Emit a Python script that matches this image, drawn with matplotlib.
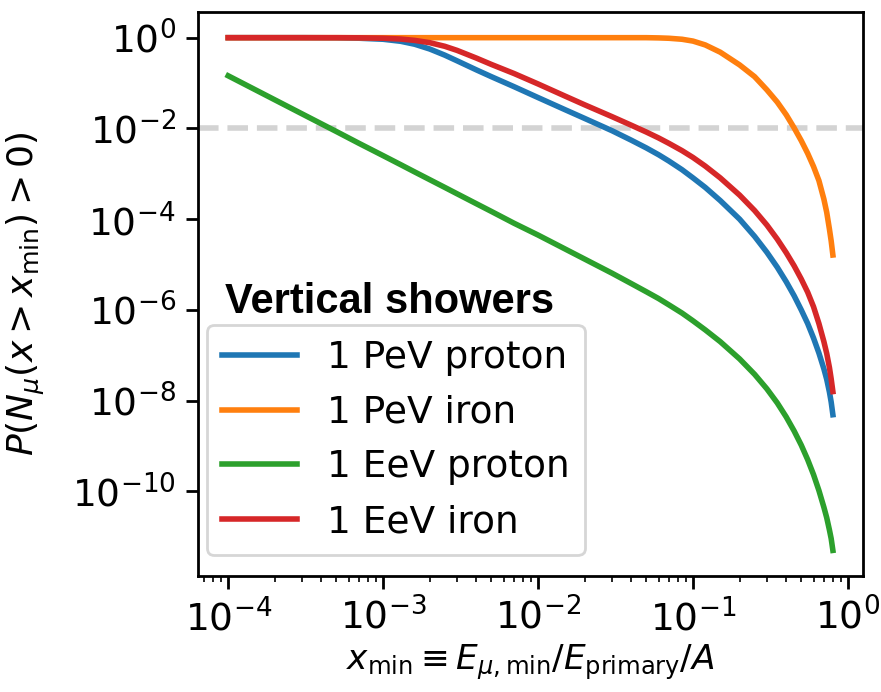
"""Probability of at least one muon above x_min for vertical air showers."""

import matplotlib.pyplot as plt
from matplotlib.ticker import NullLocator

# x_min grid shared by all curves
x_min = [1e-4, 2e-4, 3e-4, 5e-4, 7e-4,
         1e-3, 1.3e-3, 1.6e-3, 2e-3, 2.5e-3,
         3e-3, 4e-3, 5e-3, 7e-3, 1e-2,
         1.5e-2, 2e-2, 3e-2, 4e-2, 5e-2,
         6e-2, 7e-2, 8.5e-2, 0.1, 0.12,
         0.15, 0.2, 0.25, 0.3, 0.35,
         0.4, 0.45, 0.5, 0.55, 0.6,
         0.65, 0.7, 0.73, 0.76, 0.78, 0.8]

# log10 P(N_mu(x > x_min) > 0)
log_p_pev_proton = [0.0, 0.0, 0.0, -0.003, -0.012,
                    -0.035, -0.08, -0.145, -0.25, -0.385,
                    -0.51, -0.71, -0.86, -1.08, -1.32,
                    -1.59, -1.78, -2.05, -2.26, -2.43,
                    -2.58, -2.72, -2.91, -3.09, -3.30,
                    -3.59, -4.00, -4.38, -4.73, -5.06,
                    -5.38, -5.69, -6.00, -6.30, -6.62,
                    -6.95, -7.30, -7.53, -7.81, -8.03, -8.31]
log_p_pev_iron = [0.0, 0.0, 0.0, 0.0, 0.0,
                  0.0, 0.0, 0.0, 0.0, 0.0,
                  0.0, 0.0, 0.0, 0.0, 0.0,
                  0.0, 0.0, 0.0, 0.0, 0.0,
                  -0.005, -0.013, -0.035, -0.075, -0.16,
                  -0.32, -0.60, -0.86, -1.15, -1.42,
                  -1.70, -1.99, -2.27, -2.55, -2.84,
                  -3.15, -3.56, -3.85, -4.22, -4.48, -4.79]
log_p_eev_proton = [-0.84, -1.37, -1.68, -2.07, -2.33,
                    -2.60, -2.80, -2.96, -3.13, -3.30,
                    -3.44, -3.66, -3.83, -4.09, -4.35,
                    -4.66, -4.88, -5.19, -5.42, -5.60,
                    -5.75, -5.89, -6.07, -6.24, -6.44,
                    -6.70, -7.08, -7.42, -7.74, -8.05,
                    -8.36, -8.67, -8.98, -9.30, -9.63,
                    -9.98, -10.35, -10.58, -10.85, -11.04, -11.30]
log_p_eev_iron = [0.0, 0.0, 0.0, 0.0, -0.003,
                  -0.012, -0.03, -0.06, -0.11, -0.19,
                  -0.28, -0.45, -0.59, -0.79, -1.02,
                  -1.29, -1.48, -1.74, -1.93, -2.08,
                  -2.21, -2.33, -2.49, -2.64, -2.83,
                  -3.09, -3.47, -3.81, -4.13, -4.44,
                  -4.74, -5.03, -5.32, -5.61, -5.93,
                  -6.30, -6.70, -6.96, -7.27, -7.52, -7.80]

labels = ["1 PeV proton", "1 PeV iron", "1 EeV proton", "1 EeV iron"]
threshold = 1e-2

fig = plt.figure(figsize=(881 / 200, 692 / 200), dpi=200)
ax = fig.add_axes([0.2247, 0.1676, 0.755, 0.815])

for log_p, label in zip(
    [log_p_pev_proton, log_p_pev_iron, log_p_eev_proton, log_p_eev_iron], labels
):
    ax.plot(x_min, [10 ** v for v in log_p], lw=2, label=label)

ax.axhline(threshold, color="lightgray", ls="--", lw=2, zorder=0)

ax.set_xscale("log")
ax.set_yscale("log")
ax.yaxis.set_minor_locator(NullLocator())
ax.tick_params(labelsize=13.5, width=1.0)
ax.tick_params(which="major", length=4.5)
for spine in ax.spines.values():
    spine.set_linewidth(1.0)

ax.set_xlabel(r"$x_{\rm min} \equiv E_{\mu,\rm min}/E_{\rm primary}/A$",
              fontsize=12.4)
ax.set_ylabel(r"$P(N_\mu(x > x_{\rm min}) > 0)$", fontsize=13)
ax.xaxis.set_label_coords(0.5, -0.118)
ax.yaxis.set_label_coords(-0.227, 0.5)

ax.legend(loc="lower left", bbox_to_anchor=(0.0135, 0.037),
          borderaxespad=0, fontsize=13.5)
ax.text(0.041, 0.466, "Vertical showers", transform=ax.transAxes,
        family="Liberation Sans", fontweight="bold", fontsize=15,
        va="baseline")

fig.savefig("out.png", dpi=200)
